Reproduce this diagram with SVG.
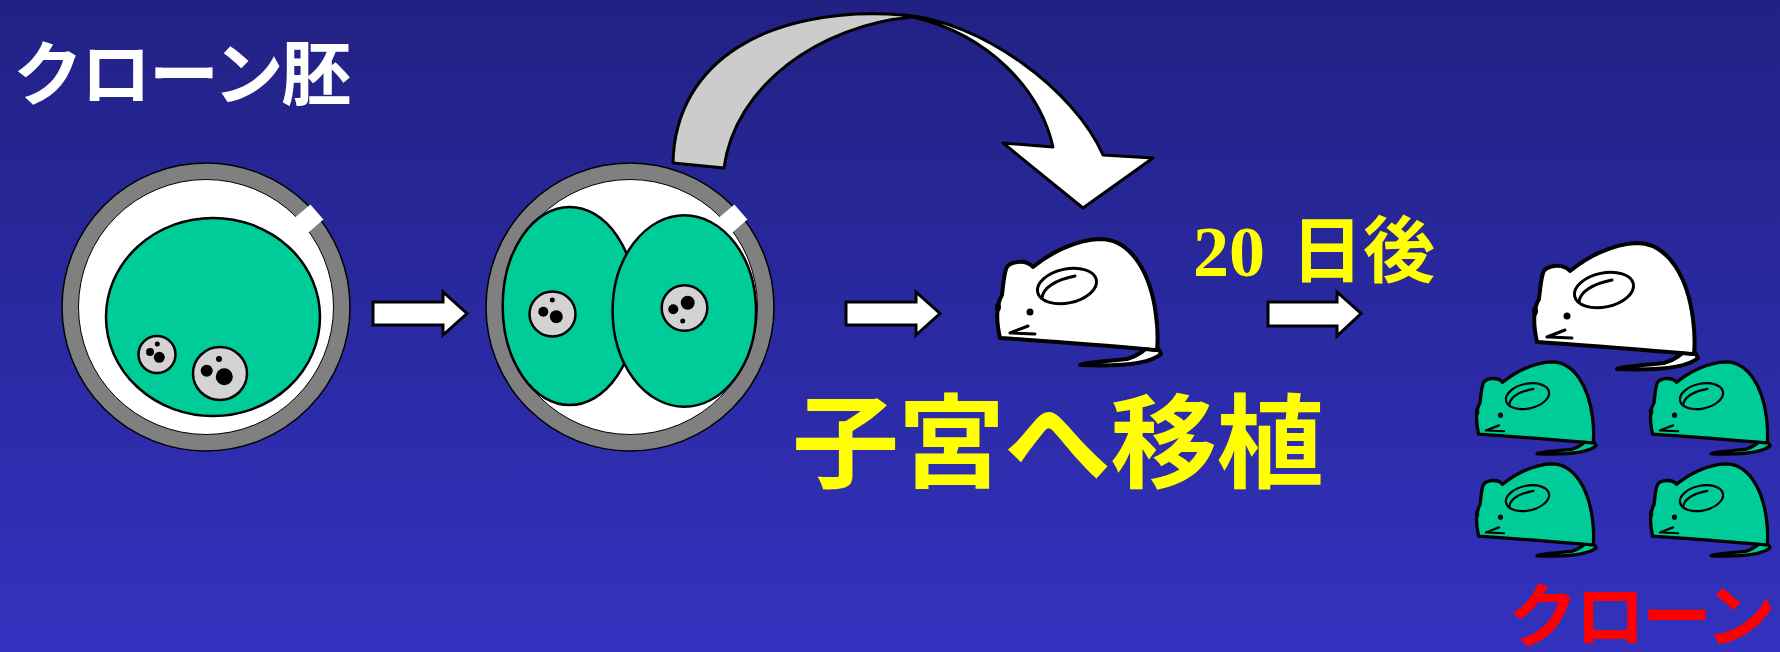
<svg xmlns="http://www.w3.org/2000/svg" xmlns:xlink="http://www.w3.org/1999/xlink" width="1780" height="652" viewBox="0 0 1780 652">
  <defs>
    <linearGradient id="bg" x1="0" y1="0" x2="0" y2="1">
      <stop offset="0" stop-color="#212184"/>
      <stop offset="1" stop-color="#3232bf"/>
    </linearGradient>
    <!-- mouse drawn in a 200x160 local box; body fill and outline come from the using group -->
    <g id="mouse">
      <path d="M170,117 C175,124 179,129 181,134 C172,142 150,147 100,145 C104,142 130,141 147,139 C158,136 166,130 172,122 Z"/>
      <path d="M20,118 C16,100 16,85 22,75 C23,65 24,55 26,49 C28,42 45,38 53,47 C70,33 95,20 120,19 C152,19 171,55 176,95 C178,110 178,120 177,130 C140,127 80,122 20,118 Z"/>
      <ellipse cx="18" cy="87" rx="3" ry="5" fill="#000" stroke="none"/>
      <ellipse cx="87" cy="66" rx="30" ry="17" transform="rotate(-12 87 66)" fill="none" stroke-width="3"/>
      <path d="M62,78 C63,68 75,60 95,56" fill="none" stroke-width="3" stroke-linecap="round"/>
      <circle cx="50" cy="92" r="3.5" fill="#000" stroke="none"/>
      <path d="M30,113 L48,106 M32,113 L55,114" fill="none" stroke-width="3" stroke-linecap="round"/>
    </g>
    <g id="egg">
      <circle r="144" fill="#808080" stroke="#000" stroke-width="1.5"/>
      <circle r="127.5" fill="#fff" stroke="#000" stroke-width="1"/>
      <rect x="124" y="-10" width="22" height="20" fill="#fff" transform="rotate(-40.6)"/>
    </g>
  </defs>
  <style>
    .cell { fill: #00cc99; stroke: #000; stroke-width: 2.5; }
    .nuc { fill: #d3d3d3; stroke: #000; stroke-width: 2.5; }
    .dot { fill: #000; }
    .arrow { fill: #fff; stroke: #000; stroke-width: 3; stroke-linejoin: miter; }
    .curve { stroke: #000; stroke-width: 3; stroke-linejoin: round; }
    .white-mouse { fill: #fff; stroke: #000; stroke-width: 4; stroke-linejoin: round; }
    .green-mouse { fill: #00cc99; stroke: #000; stroke-width: 4.5; stroke-linejoin: round; }
    .jp { font-family: "Noto Sans CJK JP", "Noto Sans", sans-serif; font-weight: bold; }
  </style>

  <rect width="1780" height="652" fill="url(#bg)"/>

  <g id="title">
    <text class="jp" x="13" y="100" font-size="70" letter-spacing="-2" fill="#fff">クローン胚</text>
  </g>

  <!-- one-cell clone embryo -->
  <g id="embryo1">
    <use xlink:href="#egg" transform="translate(206,307)"/>
    <ellipse class="cell" cx="213" cy="317" rx="107" ry="99"/>
    <ellipse class="nuc" cx="157" cy="354.5" rx="18.5" ry="18.5"/>
    <circle class="dot" cx="157.3" cy="344" r="2.5"/>
    <circle class="dot" cx="150" cy="352" r="4"/>
    <circle class="dot" cx="159.3" cy="357.3" r="5.5"/>
    <ellipse class="nuc" cx="220" cy="373.5" rx="27" ry="26.5"/>
    <circle class="dot" cx="219" cy="359" r="3"/>
    <circle class="dot" cx="206.7" cy="370.7" r="6"/>
    <circle class="dot" cx="224.3" cy="376.7" r="8.5"/>
  </g>

  <!-- two-cell embryo -->
  <g id="embryo2">
    <use xlink:href="#egg" transform="translate(630,307)"/>
    <ellipse class="cell" cx="569.7" cy="306" rx="67" ry="99"/>
    <ellipse class="nuc" cx="552.5" cy="314" rx="23" ry="22.5"/>
    <circle class="dot" cx="552.3" cy="300" r="2.5"/>
    <circle class="dot" cx="543.3" cy="311.7" r="5"/>
    <circle class="dot" cx="556.3" cy="316.7" r="6.5"/>
    <ellipse class="cell" cx="684.3" cy="311" rx="71.7" ry="95.7"/>
    <ellipse class="nuc" cx="684.5" cy="308" rx="22.8" ry="22.8"/>
    <circle class="dot" cx="687.7" cy="302.7" r="7"/>
    <circle class="dot" cx="673.3" cy="309.3" r="5"/>
    <circle class="dot" cx="682.7" cy="321" r="2.5"/>
  </g>

  <!-- surrogate mother -->
  <g id="mother" class="white-mouse">
    <use xlink:href="#mouse" transform="translate(980,220)"/>
  </g>

  <g id="transfer-label">
    <text class="jp" x="0" y="480" font-size="102" letter-spacing="-1" fill="#ff0" transform="translate(792,0) scale(1.05,1)">子宮へ移植</text>
  </g>

  <g id="days-label" fill="#ff0">
    <text x="1193" y="276" font-family="Liberation Serif, serif" font-weight="bold" font-size="72">20</text>
    <text class="jp" x="1291" y="276" font-size="72">日後</text>
  </g>

  <!-- offspring -->
  <g id="offspring-mother" class="white-mouse">
    <use xlink:href="#mouse" transform="translate(1517,224)"/>
  </g>
  <g id="clone1" class="green-mouse">
    <use xlink:href="#mouse" transform="translate(1464,348) scale(0.73)"/>
  </g>
  <g id="clone2" class="green-mouse">
    <use xlink:href="#mouse" transform="translate(1638,348) scale(0.73)"/>
  </g>
  <g id="clone3" class="green-mouse">
    <use xlink:href="#mouse" transform="translate(1464,450) scale(0.73)"/>
  </g>
  <g id="clone4" class="green-mouse">
    <use xlink:href="#mouse" transform="translate(1638,450) scale(0.73)"/>
  </g>

  <g id="clone-label">
    <text class="jp" x="1508" y="642" font-size="70" letter-spacing="-3" fill="#f00">クローン</text>
  </g>

  <g id="connectors">
    <path class="arrow" d="M373,302 H443 V292 L467,313.5 L443,335 V325 H373 Z"/>
    <path class="arrow" d="M846,302 H916 V292 L940,313.5 L916,335 V325 H846 Z"/>
    <path class="arrow" d="M1268,302 H1337 V292 L1361,313.5 L1337,336 V326 H1268 Z"/>
    <path class="curve" fill="#cccccc" d="M673,163 C675,60 770,5 903,15 L913,17 C820,25 735,85 724,168 Z"/>
    <path class="curve" fill="#fff" d="M903,15 C980,20 1075,90 1103,155 L1153,158 L1083,208 L1003,143 L1053,147 C1040,90 990,35 913,17 Z"/>
  </g>
</svg>
